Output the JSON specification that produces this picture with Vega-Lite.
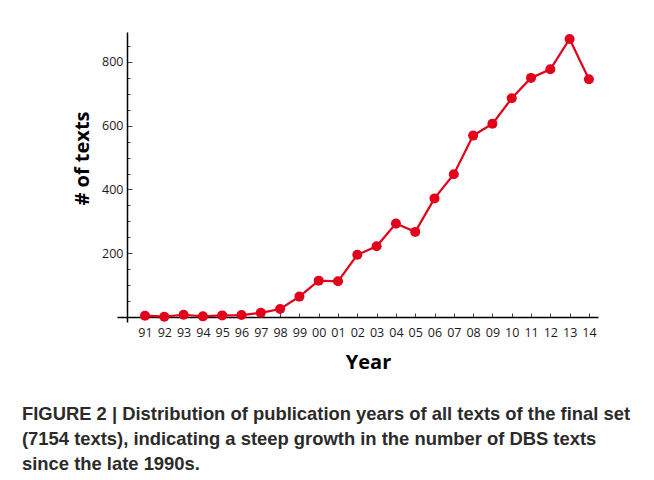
{
  "$schema": "https://vega.github.io/schema/vega-lite/v6.json",
  "width": 481,
  "height": 290,
  "autosize": {"type": "none"},
  "padding": {"left": 117, "top": 32, "right": 56, "bottom": 158},
  "background": "white",
  "config": {"view": {"stroke": null}, "font": "Open Sans"},
  "title": {
    "text": [
      "FIGURE 2 | Distribution of publication years of all texts of the final set",
      "(7154 texts), indicating a steep growth in the number of DBS texts",
      "since the late 1990s."
    ],
    "orient": "bottom",
    "anchor": "start",
    "frame": "group",
    "font": "Liberation Sans",
    "fontSize": 18.4,
    "fontWeight": "bold",
    "color": "#2b2b2b",
    "lineHeight": 25,
    "baseline": "top",
    "dx": -95,
    "offset": 33
  },
  "data": {
    "values": [
      {"year": 1991, "texts": 4},
      {"year": 1992, "texts": 1},
      {"year": 1993, "texts": 7},
      {"year": 1994, "texts": 2},
      {"year": 1995, "texts": 5},
      {"year": 1996, "texts": 6},
      {"year": 1997, "texts": 13},
      {"year": 1998, "texts": 25},
      {"year": 1999, "texts": 64},
      {"year": 2000, "texts": 114},
      {"year": 2001, "texts": 112},
      {"year": 2002, "texts": 195},
      {"year": 2003, "texts": 222},
      {"year": 2004, "texts": 293},
      {"year": 2005, "texts": 267},
      {"year": 2006, "texts": 372},
      {"year": 2007, "texts": 448},
      {"year": 2008, "texts": 569},
      {"year": 2009, "texts": 606},
      {"year": 2010, "texts": 686},
      {"year": 2011, "texts": 750},
      {"year": 2012, "texts": 777},
      {"year": 2013, "texts": 872},
      {"year": 2014, "texts": 746}
    ]
  },
  "encoding": {
    "x": {
      "field": "year",
      "type": "quantitative",
      "scale": {"domain": [1989.55, 2014.47], "nice": false, "zero": false},
      "axis": {
        "values": [1991,1992,1993,1994,1995,1996,1997,1998,1999,2000,2001,2002,2003,2004,2005,2006,2007,2008,2009,2010,2011,2012,2013,2014],
        "labelExpr": "substring(toString(datum.value), 2, 4)",
        "grid": false,
        "offset": -5,
        "domainColor": "#000000",
        "domainWidth": 1.5,
        "tickColor": "#444444",
        "tickWidth": 1,
        "tickSize": -4,
        "labelFont": "Open Sans",
        "labelFontSize": 12.5,
        "labelColor": "#1a1a1a",
        "labelPadding": 13,
        "labelFlush": false,
        "labelOverlap": false,
        "title": "Year",
        "titleFont": "Open Sans",
        "titleFontSize": 20,
        "titleFontWeight": "bold",
        "titleColor": "#000000",
        "titleX": 251,
        "titleY": 51,
        "titleBaseline": "alphabetic",
        "titleAlign": "center"
      }
    },
    "y": {
      "field": "texts",
      "type": "quantitative",
      "scale": {"domain": [-15.7, 894], "nice": false, "zero": false},
      "axis": {
        "values": [50,100,150,200,250,300,350,400,450,500,550,600,650,700,750,800,850],
        "labelExpr": "datum.value % 200 === 0 ? datum.label : ''",
        "grid": false,
        "offset": -10,
        "domainColor": "#000000",
        "domainWidth": 1.5,
        "tickColor": "#444444",
        "tickWidth": 1,
        "tickSize": {"condition": {"test": "datum.value % 200 === 0", "value": -5}, "value": -3},
        "labelFont": "Open Sans",
        "labelFontSize": 12.5,
        "labelColor": "#1a1a1a",
        "labelPadding": 9,
        "labelOverlap": false,
        "title": "# of texts",
        "titleFont": "Open Sans",
        "titleFontSize": 20,
        "titleFontWeight": "bold",
        "titleColor": "#000000",
        "titleX": -45,
        "titleY": 126,
        "titleBaseline": "middle",
        "titleAlign": "center",
        "titleAngle": 270
      }
    }
  },
  "layer": [
    {"mark": {"type": "line", "color": "#e2001a", "strokeWidth": 2.2}},
    {"mark": {"type": "circle", "color": "#e2001a", "size": 100, "opacity": 1}}
  ]
}
